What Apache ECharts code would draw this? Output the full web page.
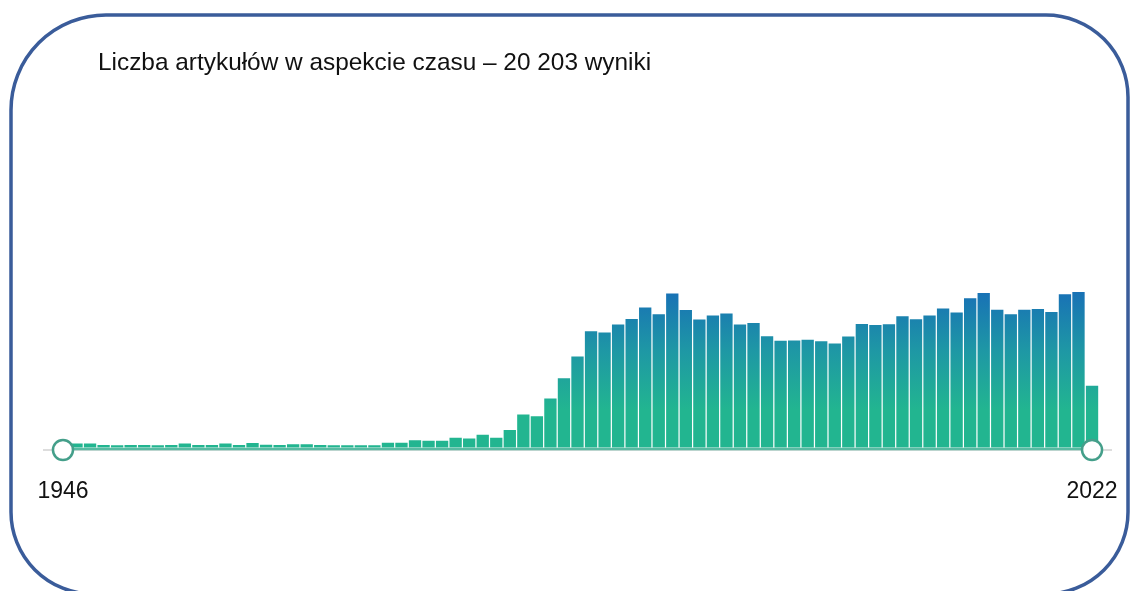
<!DOCTYPE html>
<html>
<head>
<meta charset="utf-8">
<script src="https://cdn.jsdelivr.net/npm/echarts@6/dist/echarts.min.js"></script>
<style>
  html, body { margin: 0; padding: 0; background: #ffffff; }
  #chart { width: 1130px; height: 591px; }
</style>
</head>
<body>
<div id="chart"></div>
<script>
// Years covered by the histogram
const years = [];
for (let y = 1946; y <= 2022; y++) years.push(String(y));

// Number of articles per year
const counts = [
  12, 15, 15, 10, 9, 10, 10, 9, 10, 15,
  10, 10, 15, 10, 17, 11, 10, 12, 12, 10,
  9, 9, 9, 9, 18, 18, 28, 26, 26, 37,
  35, 49, 37, 67, 127, 120, 188, 266, 349, 446,
  441, 472, 493, 537, 511, 591, 527, 491, 506, 514,
  472, 478, 427, 409, 410, 413, 408, 399, 426, 474,
  470, 473, 503, 492, 506, 533, 518, 572, 593, 528,
  511, 528, 531, 520, 588, 596, 237
];

// Range labels shown under the slider ends
const rangeLabels = [years[0], years[years.length - 1]];

const total = counts.reduce((a, b) => a + b, 0);
const totalText = String(total).replace(/\B(?=(\d{3})+(?!\d))/g, ' ');

const chart = echarts.init(document.getElementById('chart'));

const option = {
  backgroundColor: '#ffffff',
  animation: false,
  title: {
    text: 'Liczba artykułów w aspekcie czasu – ' + totalText + ' wyniki',
    left: 93,
    top: 46,
    textStyle: {
      fontFamily: 'Liberation Sans, Arial, sans-serif',
      fontSize: 24.4,
      fontWeight: 'normal',
      color: '#111111'
    }
  },
  grid: { left: 56.2, right: 31.2, top: 265, bottom: 143.5 },
  xAxis: {
    type: 'category',
    data: years,
    boundaryGap: true,
    axisLine: { show: false },
    axisTick: { show: false },
    axisLabel: {
      interval: (idx) => idx === 0 || idx === years.length - 1,
      formatter: (v) => (rangeLabels.indexOf(v) >= 0 ? v : ''),
      margin: 33,
      fontFamily: 'Liberation Sans, Arial, sans-serif',
      fontSize: 23,
      color: '#111111',
      hideOverlap: false
    }
  },
  yAxis: {
    type: 'value',
    min: 0,
    max: 700,
    show: false,
    splitLine: { show: false }
  },
  series: [{
    type: 'bar',
    data: counts,
    barCategoryGap: '9%',
    z: 2,
    itemStyle: {
      color: {
        type: 'linear',
        x: 0, y: 290, x2: 0, y2: 410,
        global: true,
        colorStops: [
          { offset: 0, color: '#1870b6' },
          { offset: 0.5, color: '#1e97a5' },
          { offset: 1, color: '#22b590' }
        ]
      }
    }
  }]
};

chart.setOption(option);

// Slider track and handles placed on the first and last category
function drawSlider() {
  const x0 = chart.convertToPixel({ xAxisIndex: 0 }, 0);
  const x1 = chart.convertToPixel({ xAxisIndex: 0 }, years.length - 1);
  const base = chart.convertToPixel({ yAxisIndex: 0 }, 0);
  const ty = base + 2.5;
  const r = 10;
  chart.setOption({
    graphic: [
      {
        type: 'rect',
        shape: { x: 11, y: 15, width: 1117, height: 579, r: [95, 82, 82, 82] },
        style: { fill: 'none', stroke: '#3a5c9a', lineWidth: 3.5 },
        z: 0, silent: true
      },
      {
        type: 'line',
        shape: { x1: x0 - 20, y1: ty, x2: x1 + 20, y2: ty },
        style: { stroke: '#d2d2d2', lineWidth: 1.5 },
        z: 10, silent: true
      },
      {
        type: 'line',
        shape: { x1: x0, y1: ty - 1, x2: x1, y2: ty - 1 },
        style: { stroke: '#57bba2', lineWidth: 2.5 },
        z: 11, silent: true
      },
      {
        type: 'circle',
        shape: { cx: x0, cy: ty, r: r },
        style: { fill: '#ffffff', stroke: '#449f8a', lineWidth: 2.5 },
        z: 12, silent: true
      },
      {
        type: 'circle',
        shape: { cx: x1, cy: ty, r: r },
        style: { fill: '#ffffff', stroke: '#449f8a', lineWidth: 2.5 },
        z: 12, silent: true
      }
    ]
  });
}
drawSlider();
</script>
</body>
</html>
